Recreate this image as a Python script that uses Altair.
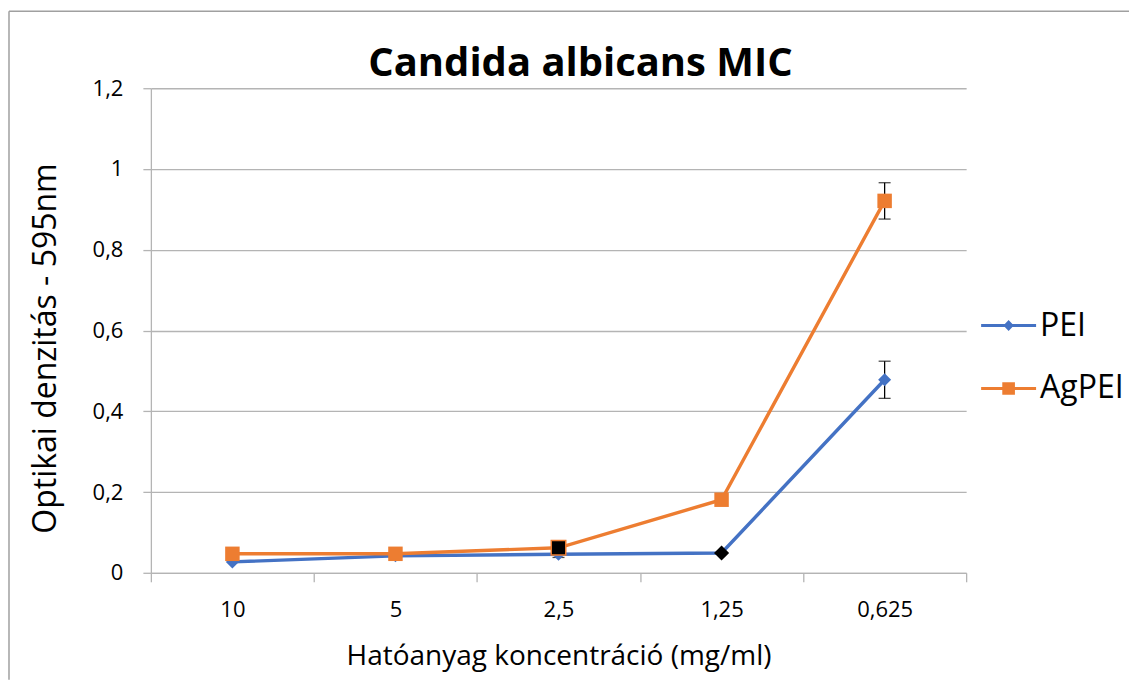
import json
import pandas as pd
import altair as alt

categories = ["10", "5", "2,5", "1,25", "0,625"]
series_names = ["PEI", "AgPEI"]
pei_values = [0.027, 0.042, 0.046, 0.049, 0.478]
agpei_values = [0.047, 0.047, 0.062, 0.181, 0.921]
pei_errors = [0.0, 0.0, 0.008, 0.0, 0.046]
agpei_errors = [0.0, 0.0, 0.0, 0.0, 0.045]
pei_highlight = [False, False, False, True, False]
agpei_highlight = [False, False, True, False, False]
colors = ["#4472C4", "#ED7D31"]
y_ticks = [0, 0.2, 0.4, 0.6, 0.8, 1.0, 1.2]
x_ticks = [i * 0.5 for i in range(11)]

rows = []
for name, vals, errs, hls in [
    ("PEI", pei_values, pei_errors, pei_highlight),
    ("AgPEI", agpei_values, agpei_errors, agpei_highlight),
]:
    for i, (c, v, e, h) in enumerate(zip(categories, vals, errs, hls)):
        rows.append(dict(series=name, cat=c, pos=i + 0.5, value=v,
                         lo=v - e, hi=v + e, err=e, hl=h))
df = pd.DataFrame(rows)

FONT = "Open Sans"
GRID = "#b4b4b4"
X_TITLE = "Hatóanyag koncentráció (mg/ml)"
Y_TITLE = "Optikai denzitás - 595nm"

label_expr = ("datum.value % 1 == 0.5 ? " + json.dumps(categories) +
              "[floor(datum.value)] : ''")

x_scale = alt.Scale(domain=[0, 5], nice=False, zero=False)
x_axis = alt.Axis(
    values=x_ticks, labelExpr=label_expr, grid=False,
    tickOpacity={"condition": {"test": "datum.value % 1 != 0", "value": 0}, "value": 1},
    labelOverlap=False, labelFlush=False, tickSize=9, tickColor=GRID,
    domainColor=GRID, domainWidth=1.3, tickWidth=1.3,
    labelFont=FONT, labelFontSize=22, labelColor="black", labelPadding=18,
    titleFont=FONT, titleFontSize=28, titleFontWeight="normal",
    titleColor="black", titlePadding=22,
)
y_scale = alt.Scale(domain=[0, 1.2], nice=False)
y_axis = alt.Axis(
    values=y_ticks,
    labelExpr="replace(format(datum.value, '.1~f'), '.', ',')",
    grid=True, gridColor=GRID, gridWidth=1.3, tickSize=8, tickColor=GRID,
    tickWidth=1.3, domainColor=GRID, domainWidth=1.3,
    labelFont=FONT, labelFontSize=22, labelColor="black", labelPadding=20,
    titleFont=FONT, titleFontSize=32, titleFontWeight="normal",
    titleColor="black", titleX=-105, titleY=260, titleAngle=270,
    titleAlign="center", titleBaseline="middle",
)


def xe(field="pos"):
    return alt.X(f"{field}:Q", scale=x_scale, axis=x_axis, title=X_TITLE)


def ye(field="value"):
    return alt.Y(f"{field}:Q", scale=y_scale, axis=y_axis, title=Y_TITLE)


color_enc = alt.Color("series:N", scale=alt.Scale(domain=series_names, range=colors),
                      legend=None)

base = alt.Chart(df)


def series_layers(name, shape, size, hl_stroke):
    s = base.transform_filter(alt.datum.series == name)
    line = s.mark_line(strokeWidth=3.4).encode(x=xe(), y=ye(), color=color_enc)
    e = s.transform_filter("datum.err > 0")
    err = e.mark_rule(color="black", strokeWidth=1.3).encode(
        x=xe(), y=ye("lo"), y2="hi:Q")
    caps = e.transform_fold(["lo", "hi"], as_=["k", "v"]).mark_tick(
        color="black", orient="horizontal", size=12, thickness=1.3
    ).encode(x=xe(), y=ye("v"))
    pts = s.mark_point(filled=True, shape=shape, size=size, opacity=1).encode(
        x=xe(), y=ye(), color=color_enc)
    hl = s.transform_filter("datum.hl").mark_point(
        filled=True, shape=shape, size=size, opacity=1, fill="black",
        stroke=hl_stroke, strokeWidth=1.5
    ).encode(x=xe(), y=ye())
    return [line, err, caps, pts, hl]


path_pei = ("M-1,-0.055L1,-0.055L1,0.055L-1,0.055Z "
            "M0,-0.2L0.19,0L0,0.2L-0.19,0Z")
path_ag = ("M-1,-0.055L1,-0.055L1,0.055L-1,0.055Z "
           "M-0.23,-0.23L0.23,-0.23L0.23,0.23L-0.23,0.23Z")

legend_cfg = dict(
    orient="none", legendX=831, legendY=210, title=None,
    symbolSize=3025, symbolOpacity=1, symbolStrokeWidth=0,
    labelFont=FONT, labelFontSize=32, labelColor="black", labelOffset=4,
    rowPadding=19, padding=0,
)
legend_layer = base.transform_filter("false").mark_point(filled=True).encode(
    x=xe(), y=ye(),
    color=alt.Color("series:N", scale=alt.Scale(domain=series_names, range=colors),
                    legend=alt.Legend(**legend_cfg)),
    shape=alt.Shape("series:N", scale=alt.Scale(domain=series_names,
                                                range=[path_pei, path_ag]),
                    legend=alt.Legend(**legend_cfg)),
)

one = alt.Data(values=[{"k": 0}])
border_top = alt.Chart(one).mark_rule(color="#a0a0a0", strokeWidth=1.5).encode(
    x=alt.value(-142), x2=alt.value(979), y=alt.value(-77))
border_left = alt.Chart(one).mark_rule(color="#a0a0a0", strokeWidth=1.5).encode(
    x=alt.value(-142), y=alt.value(-77), y2=alt.value(592))

layers = (series_layers("PEI", "diamond", 170, "black")
          + series_layers("AgPEI", "square", 210, "#ED7D31")
          + [legend_layer, border_top, border_left])

chart = alt.layer(*layers).properties(
    width=816, height=485,
    title=alt.Title("Candida albicans MIC", font=FONT, fontSize=40,
                    fontWeight="bold", color="black", anchor="middle",
                    baseline="alphabetic", offset=0, dx=22, dy=106),
    padding={"left": 0, "top": 2, "right": 0, "bottom": 0},
    background="white",
).resolve_legend(color="independent", shape="independent").configure_view(stroke=None)

chart.save("out.html", embed_options={"renderer": "svg", "actions": False})
